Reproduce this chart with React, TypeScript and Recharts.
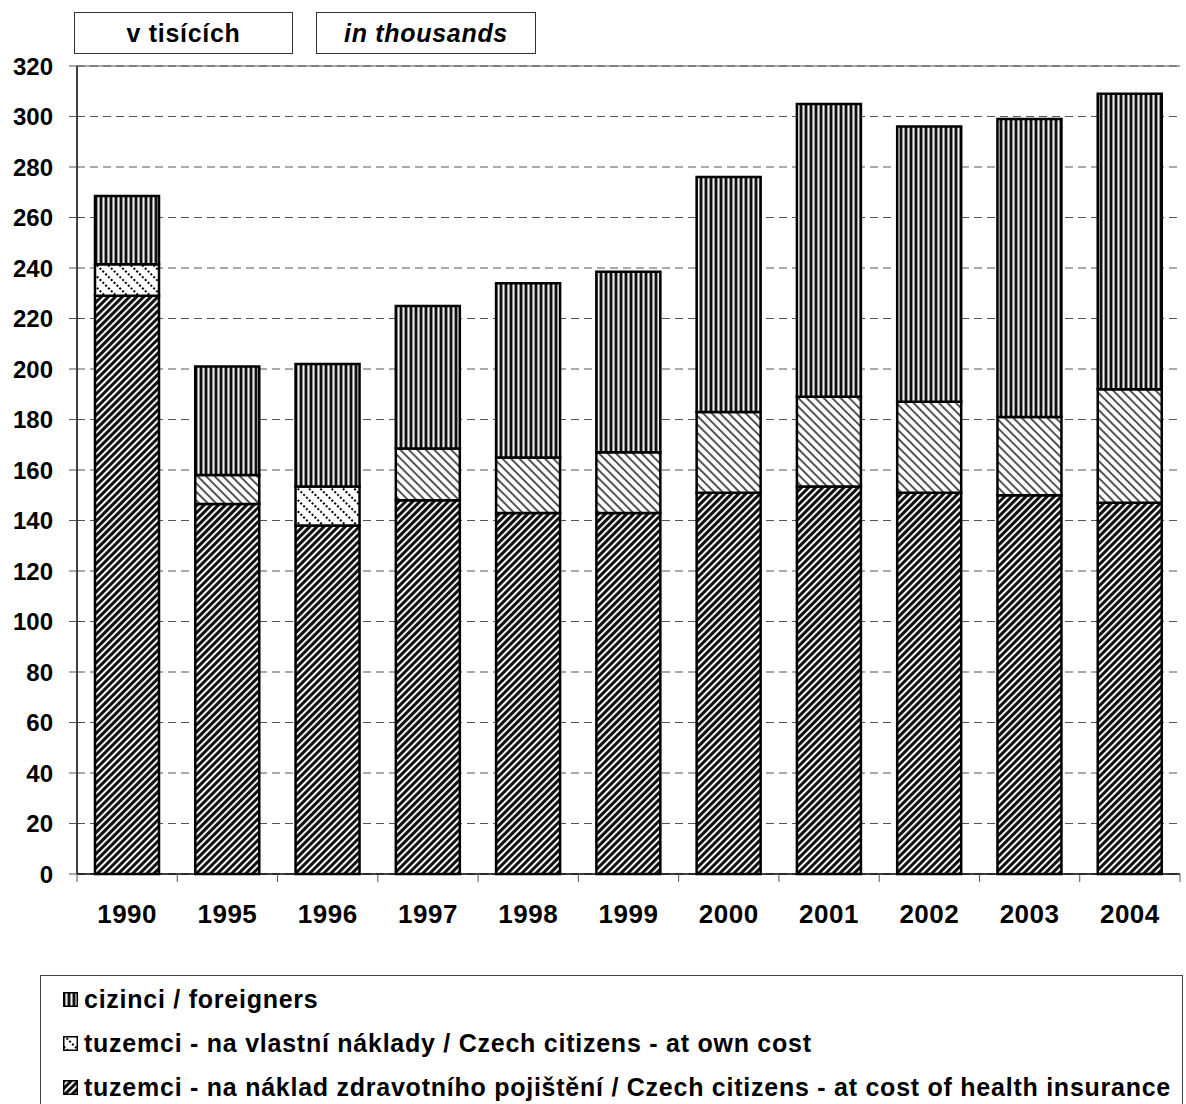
import React from 'react';
import { BarChart, Bar, Cell, XAxis, YAxis, CartesianGrid, ReferenceLine } from 'recharts';

// values in thousands
const years = ['1990', '1995', '1996', '1997', '1998', '1999', '2000', '2001', '2002', '2003', '2004'];
const healthInsurance = [229, 146.5, 138, 148, 143, 143, 151, 153.5, 151, 150, 147];
const ownCost = [12.5, 11.5, 15.5, 20.5, 22, 24, 32, 35.5, 36, 31, 45];
const foreigners = [27, 43, 48.5, 56.5, 69, 71.5, 93, 116, 109, 118, 117];
const yTicks = [0, 20, 40, 60, 80, 100, 120, 140, 160, 180, 200, 220, 240, 260, 280, 300, 320];

const legendItems = [
  { key: 'foreigners', label: 'cizinci / foreigners', fill: 'url(#pVert)' },
  { key: 'ownCost', label: 'tuzemci - na vlastní náklady / Czech citizens - at own cost', fill: 'url(#pDots)' },
  { key: 'health', label: 'tuzemci - na náklad zdravotního pojištění / Czech citizens - at cost of health insurance', fill: 'url(#pDiag)' },
];

// the two years drawn with the dotted hatch in the original
const dottedYears = ['1990', '1996'];

const data = years.map((year, i) => ({
  year,
  health: healthInsurance[i],
  ownCost: ownCost[i],
  foreigners: foreigners[i],
}));

const FONT = '"Liberation Sans", Arial, sans-serif';
const CHART_W = 1186;
const Y_W = 77;
const RIGHT = 6;
const TICK_MARGIN = 31;
const band = (CHART_W - Y_W - RIGHT) / years.length;

const Patterns = () => (
  <defs>
    <pattern id="pVert" patternUnits="userSpaceOnUse" width="5" height="5">
      <rect width="5" height="5" fill="#8c8c8c" />
      <rect x="0" width="2" height="5" fill="#111" />
      <rect x="3" width="1" height="5" fill="#f0f0f0" />
    </pattern>
    <pattern id="pDiag" patternUnits="userSpaceOnUse" width="5" height="5" patternTransform="rotate(45)">
      <rect width="5" height="5" fill="#f4f4f4" />
      <rect x="0" width="3" height="5" fill="#111" />
    </pattern>
    <pattern id="pLight" patternUnits="userSpaceOnUse" width="6" height="6" patternTransform="rotate(-45)">
      <rect width="6" height="6" fill="#fff" />
      <rect x="0" width="2" height="6" fill="#555" />
    </pattern>
    <pattern id="pDots" patternUnits="userSpaceOnUse" width="8" height="4" patternTransform="rotate(-45)">
      <rect width="8" height="4" fill="#fff" />
      <rect x="0" y="0" width="2" height="2" fill="#000" />
    </pattern>
  </defs>
);

// year label plus the tick marks that sit between the categories
const YearTick = ({ x, y, payload, index }: any) => {
  const top = y - TICK_MARGIN;
  return (
    <g>
      {index === 0 && <line x1={x - band / 2} x2={x - band / 2} y1={top} y2={top + 8} stroke="#555" />}
      <line x1={x + band / 2} x2={x + band / 2} y1={top} y2={top + 8} stroke="#555" />
      <text x={x} y={y} dy="0.71em" textAnchor="middle" fill="#000" fontSize={26} fontWeight="bold" fontFamily={FONT} letterSpacing={0.5}>
        {payload.value}
      </text>
    </g>
  );
};

export default function App() {
  return (
    <div style={{ position: 'absolute', left: 0, top: 0, width: 1186, height: 1104, background: '#fff', fontFamily: FONT, overflow: 'hidden' }}>
      {/* unit boxes */}
      <div style={{ position: 'absolute', left: 74, top: 12, width: 219, height: 42, border: '1px solid #333', boxSizing: 'border-box', display: 'flex', alignItems: 'center', justifyContent: 'center', fontWeight: 'bold', fontSize: 25, letterSpacing: 0.7 }}>
        v tisících
      </div>
      <div style={{ position: 'absolute', left: 316, top: 12, width: 220, height: 42, border: '1px solid #333', boxSizing: 'border-box', display: 'flex', alignItems: 'center', justifyContent: 'center', fontWeight: 'bold', fontStyle: 'italic', fontSize: 25, letterSpacing: 0.7 }}>
        in thousands
      </div>

      <div style={{ position: 'absolute', left: 0, top: 0 }}>
        <BarChart width={CHART_W} height={960} data={data} margin={{ top: 66, right: RIGHT, left: 0, bottom: 0 }} barCategoryGap={0}>
          <Patterns />
          <CartesianGrid horizontal vertical={false} stroke="#555" strokeDasharray="8 5" />
          <ReferenceLine y={320} stroke="#555" />
          <XAxis
            dataKey="year"
            height={86}
            axisLine={{ stroke: '#000', strokeWidth: 1.5 }}
            tickLine={false}
            tickSize={0}
            tickMargin={TICK_MARGIN}
            interval={0}
            tick={<YearTick />}
          />
          <YAxis
            width={Y_W}
            domain={[0, 320]}
            ticks={yTicks}
            interval={0}
            tickSize={8}
            tickMargin={16}
            axisLine={{ stroke: '#000', strokeWidth: 1.5 }}
            tickLine={{ stroke: '#555' }}
            tick={{ fill: '#000', fontSize: 24, fontWeight: 'bold', fontFamily: FONT }}
          />
          <Bar dataKey="health" stackId="a" barSize={64} fill="url(#pDiag)" stroke="#000" strokeWidth={2.5} isAnimationActive={false} />
          <Bar dataKey="ownCost" stackId="a" barSize={64} stroke="#000" strokeWidth={2.5} isAnimationActive={false}>
            {data.map((d) => (
              <Cell key={d.year} fill={dottedYears.includes(d.year) ? 'url(#pDots)' : 'url(#pLight)'} />
            ))}
          </Bar>
          <Bar dataKey="foreigners" stackId="a" barSize={64} fill="url(#pVert)" stroke="#000" strokeWidth={2.5} isAnimationActive={false} />
        </BarChart>
      </div>

      {/* legend */}
      <div style={{ position: 'absolute', left: 40, top: 975, width: 1143, height: 140, border: '1px solid #444', boxSizing: 'border-box', paddingLeft: 22, paddingTop: 1 }}>
        {legendItems.map((item) => (
          <div key={item.key} style={{ display: 'flex', alignItems: 'center', height: 44, fontWeight: 'bold', fontSize: 25, letterSpacing: 0.75, whiteSpace: 'nowrap' }}>
            <svg width={15} height={15} style={{ marginRight: 6 }}>
              <Patterns />
              <rect x={0.75} y={0.75} width={13.5} height={13.5} fill={item.fill} stroke="#000" strokeWidth={1.5} />
            </svg>
            {item.label}
          </div>
        ))}
      </div>
    </div>
  );
}
